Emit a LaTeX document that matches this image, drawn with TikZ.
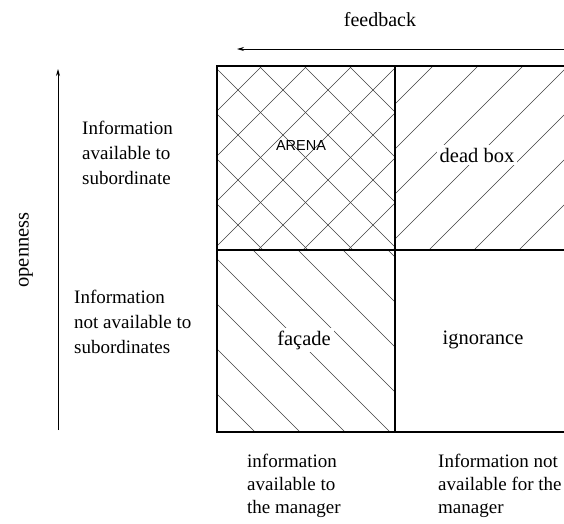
\documentclass[tikz,border=0pt]{standalone}
\usepackage{fontspec}
\setmainfont{Liberation Serif}
\newfontfamily\arenafont{Liberation Sans}
\usetikzlibrary{arrows.meta}
\begin{document}
\begin{tikzpicture}[x=1pt,y=-1pt]
   \tikzset{sidetext/.style = {font=\fontsize{19}{25}\selectfont,align=left,anchor=north west,inner sep=0pt},
            foottext/.style = {font=\fontsize{19}{23}\selectfont,align=left,anchor=north west,inner sep=0pt},
            quad/.style = {font=\fontsize{20.5}{24}\selectfont,inner sep=3pt},
            hatch/.style = {draw=black!75,line width=0.6pt},
            axis/.style = {line width=0.8pt,-{Stealth[length=7pt,width=4pt]}}}
   \clip (0,0) rectangle (564,523);

   % hatching
   \begin{scope}
     \clip (217,66) rectangle (395,250);
     \foreach \c in {283,328,...,643} \draw[hatch] (\c-250,250) -- (\c-66,66);
     \foreach \c in {-32,13,...,328} \draw[hatch] (\c+66,66) -- (\c+250,250);
   \end{scope}
   \begin{scope}
     \clip (395,66) rectangle (574,250);
     \foreach \c in {499,544,...,824} \draw[hatch] (\c-250,250) -- (\c-66,66);
   \end{scope}
   \begin{scope}
     \clip (217,250) rectangle (395,432);
     \foreach \c in {-222,-177,...,138} \draw[hatch] (\c+250,250) -- (\c+432,432);
   \end{scope}

   \draw[line width=1.1pt] (217,66) rectangle (574,432);
   \draw[line width=1.1pt] (395,66) -- (395,432);
   \draw[line width=1.1pt] (217,250) -- (574,250);

   \node[quad,font=\arenafont\fontsize{14.5}{17}\selectfont] (arena) at (301,146) {ARENA};
   \node[quad,fill=white] (deadbox) at (477,155) {dead box};
   \node[quad,fill=white] (facade) at (304,340) {façade};
   \node[quad] (ignorance) at (483,340) {ignorance};

   \coordinate (fbstart) at (564,49);
   \coordinate (fbend) at (237,49);
   \draw[axis] (fbstart) -- (fbend);
   \node[font=\fontsize{20}{24}\selectfont] (feedback) at (380,20) {feedback};

   \coordinate (opstart) at (58,430);
   \coordinate (opend) at (58,69);
   \draw[axis] (opstart) -- (opend);
   \node[font=\fontsize{20.5}{24}\selectfont,rotate=90] (openness) at (26,250) {openness};

   \node[sidetext] (subavail) at (82,121) {Information\\available to\\subordinate};
   \node[sidetext] (subnot) at (74,290) {Information\\not available to\\subordinates};
   \node[foottext] (mgravail) at (247,454) {information\\available to\\the manager};
   \node[foottext] (mgrnot) at (438,454) {Information not\\available for the\\manager};
\end{tikzpicture}
\end{document}
